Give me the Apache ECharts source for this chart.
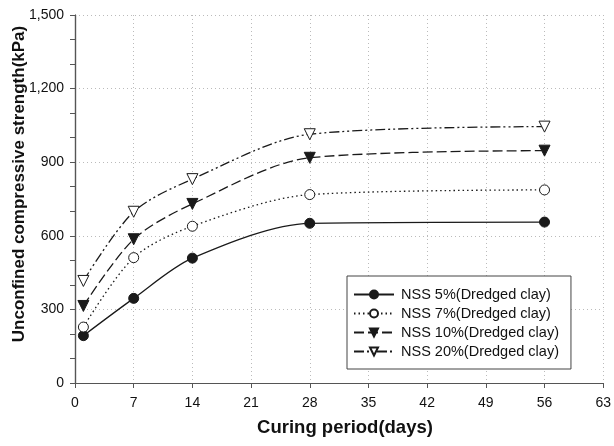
<!DOCTYPE html>
<html><head><meta charset="utf-8">
<script src="https://cdn.jsdelivr.net/npm/echarts@6/dist/echarts.min.js"></script>
<style>html,body{margin:0;padding:0;background:#fff}#c{width:614px;height:446px}</style>
</head><body><div id="c"></div>
<script>
const days = [1, 7, 14, 28, 56];
const nss5 = [193, 345, 509, 651, 656];
const nss7 = [228, 511, 639, 768, 787];
const nss10 = [314, 586, 730, 918, 947];
const nss20 = [416, 698, 831, 1014, 1045];
const xTicks = [0, 7, 14, 21, 28, 35, 42, 49, 56, 63];
const yTicks = [0, 300, 600, 900, 1200, 1500];
const names = ['NSS 5%(Dredged clay)','NSS 7%(Dredged clay)','NSS 10%(Dredged clay)','NSS 20%(Dredged clay)'];
const xName = 'Curing period(days)';
const yName = 'Unconfined compressive strength(kPa)';

const font = 'Liberation Sans, Arial, sans-serif';
const ink = '#1a1a1a';
function pairs(v){ return days.map((d,i)=>[d,v[i]]); }
const styles = [
  {data:nss5, symbol:'circle', size:10, fill:ink, type:'solid', rot:0},
  {data:nss7, symbol:'circle', size:10, fill:'#fff', type:[1.5,3], rot:0},
  {data:nss10, symbol:'triangle', size:11, fill:ink, type:[10,4], rot:180},
  {data:nss20, symbol:'triangle', size:11, fill:'#fff', type:[10,3,2,3,2,3], rot:180}
];
const chart = echarts.init(document.getElementById('c'));
chart.setOption({
  animation:false,
  backgroundColor:'#fff',
  grid:{left:75,right:9,top:15,bottom:63},
  graphic:[{
    type:'text', x:19, y:184, rotation:Math.PI/2,
    style:{text:yName, font:'bold 17px Liberation Sans, Arial, sans-serif', fill:'#111',
      align:'center', verticalAlign:'middle'}
  },{
    type:'text', x:345, y:428,
    style:{text:xName, font:'bold 18.5px Liberation Sans, Arial, sans-serif', fill:'#111',
      align:'center', verticalAlign:'middle'}
  }],
  legend:{
    orient:'vertical', left:347, top:276, width:224,
    padding:[11,12,10,6], itemGap:4, itemWidth:40, itemHeight:10,
    borderColor:'#444', borderWidth:1, backgroundColor:'#fff',
    textStyle:{fontFamily:font, fontSize:14.5, color:'#111', padding:[0,0,0,2]},
    data:names
  },
  xAxis:[{
    type:'value', min:0, max:63, interval:7,
    axisLine:{lineStyle:{color:'#555', width:1.2}},
    axisTick:{show:true, length:5, lineStyle:{color:'#555'}},
    axisLabel:{fontFamily:font, fontSize:14, color:'#111', margin:13,
      formatter:v=>xTicks.includes(v)?String(v):''},
    splitLine:{show:true, lineStyle:{color:'#bbb', type:[1,3]}}
  },{
    type:'value', min:0, max:63, interval:7, position:'top',
    axisLine:{show:true, lineStyle:{color:'#555', width:1.2}},
    axisTick:{show:false}, axisLabel:{show:false}, splitLine:{show:false}
  }],
  yAxis:[{
    type:'value', min:0, max:1500, interval:300,
    axisLine:{show:true, lineStyle:{color:'#555', width:1.2}},
    axisTick:{show:true, length:5, lineStyle:{color:'#555'}},
    minorTick:{show:true, splitNumber:3, length:5, lineStyle:{color:'#555'}},
    axisLabel:{fontFamily:font, fontSize:14, color:'#111', margin:11,
      formatter:v=>yTicks.includes(v)?v.toLocaleString('en-US'):''},
    splitLine:{show:true, lineStyle:{color:'#bbb', type:[1,3]}}
  },{
    type:'value', min:0, max:1500, interval:300, position:'right',
    axisLine:{show:true, lineStyle:{color:'#555', width:1.2}},
    axisTick:{show:true, inside:true, length:5, lineStyle:{color:'#555'}},
    minorTick:{show:false},
    axisLabel:{show:false}, splitLine:{show:false}
  }],
  series: styles.map((s,i)=>({
    name:names[i], type:'line', data:pairs(s.data), smooth:0.3,
    symbol:s.symbol, symbolSize:s.size, symbolRotate:s.rot, showAllSymbol:true,
    lineStyle:{color:ink, width:1.3, type:s.type},
    itemStyle:{color:s.fill, borderColor:ink, borderWidth:1},
    z:3+i
  }))
});
</script></body></html>
